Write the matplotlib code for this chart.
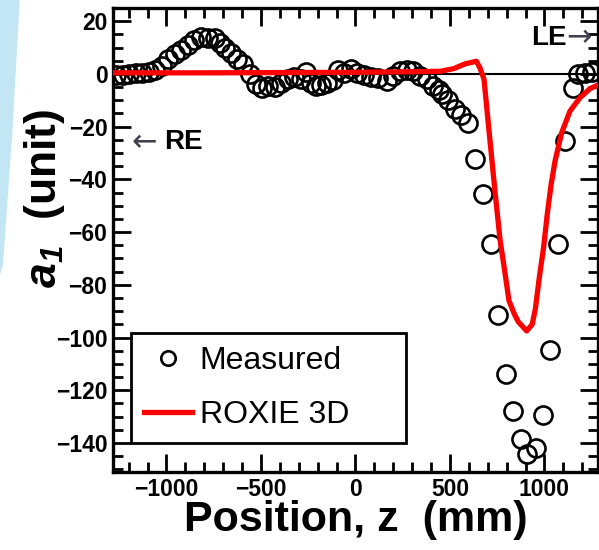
import matplotlib
matplotlib.use("Agg")
import matplotlib.pyplot as plt
from matplotlib.patches import Polygon
from matplotlib.ticker import MultipleLocator

# measured a1 along the magnet axis
z_meas = [-1265, -1232, -1198, -1163, -1128, -1093, -1058, -1025, -990, -955,
          -923, -888, -853, -815, -779, -743, -717, -690, -659, -629,
          -594, -558, -528, -496, -461, -426, -394, -359, -324, -290,
          -262, -235, -210, -180, -150, -120, -92, -60, -25, 10,
          45, 80, 120, 165, 200, 235, 270, 305, 340, 377,
          412, 440, 460, 490, 525, 558, 597, 632, 673, 715,
          756, 795, 832, 874, 909, 953, 994, 1029, 1073, 1108,
          1149, 1179, 1214, 1250]
a_meas = [-0.3, -0.3, -0.2, 0.2, 0.4, 0.9, 1.3, 3.0, 5.5, 7.4,
          9.0, 10.8, 12.8, 14.0, 13.7, 13.5, 11.8, 9.9, 8.0, 5.5,
          3.6, -0.2, -4.0, -5.2, -4.6, -5.0, -3.3, -1.8, -1.2, -2.0,
          0.6, -3.3, -4.6, -4.2, -3.4, -2.5, 1.6, 0.4, 1.8, 0.5,
          -0.6, -1.1, -1.4, -2.7, -0.8, 1.2, 1.3, 1.2, -0.8, -2.1,
          -4.6, -6.0, -7.8, -9.9, -13.5, -15.7, -18.8, -32.4, -45.7, -64.7,
          -91.3, -113.8, -128.0, -138.3, -144.1, -141.9, -129.2, -104.6, -64.4, -25.5,
          -5.2, -0.2, 0.4, 0.7]

# ROXIE 3D calculation
z_roxie = [-1290, -800, -400, 0, 300, 450, 520, 580, 640, 660,
           680, 703, 738, 765, 790, 812, 840, 861, 906, 935,
           952, 973, 995, 1015, 1035, 1056, 1091, 1135, 1188, 1241, 1290]
a_roxie = [0.4, 0.4, 0.5, 0.6, 0.8, 1.0, 2.0, 3.8, 4.8, 2.0,
           -2.0, -19.0, -44.5, -63.0, -75.0, -86.0, -91.0, -94.0, -97.5, -95.0,
           -89.0, -77.0, -66.0, -53.0, -42.0, -33.0, -22.3, -14.1, -9.0, -5.6, -4.0]

plt.rcParams["font.family"] = ["Liberation Sans", "DejaVu Sans"]
plt.rcParams["mathtext.fontset"] = "custom"
plt.rcParams["mathtext.rm"] = "Liberation Sans"
plt.rcParams["mathtext.it"] = "Liberation Sans:italic"
plt.rcParams["mathtext.bf"] = "Liberation Sans:bold"
plt.rcParams["mathtext.bfit"] = "Liberation Sans:italic:bold"

fig = plt.figure(figsize=(5.99, 5.5), dpi=100)
ax = fig.add_axes([0.1886, 0.1418, 0.8097, 0.8437])

# slide decoration on the left edge
fig.patches.append(Polygon([(0, 1), (0.033, 1), (0.02, 0.75), (0.005, 0.52), (0, 0.5)],
                           closed=True, transform=fig.transFigure,
                           facecolor="#9ad6ee", edgecolor="none", alpha=0.6))

ax.axhline(0, color="black", lw=1.5, zorder=1)
ax.plot(z_meas, a_meas, "o", ms=13, mfc="none", mec="black", mew=1.9,
        label="Measured", zorder=2)
ax.plot(z_roxie, a_roxie, "-", color="#ff0000", lw=3.8, label="ROXIE 3D", zorder=3)

ax.set_xlim(-1283, 1283)
ax.set_ylim(-151, 25)
ax.xaxis.set_major_locator(MultipleLocator(500))
ax.xaxis.set_minor_locator(MultipleLocator(100))
ax.yaxis.set_major_locator(MultipleLocator(20))
ax.yaxis.set_minor_locator(MultipleLocator(5))
ax.tick_params(which="both", direction="in", top=True, right=True, width=2,
               labelsize=16.5, pad=4)
ax.tick_params(which="major", length=13)
ax.tick_params(which="minor", length=7)
for lab in ax.get_xticklabels() + ax.get_yticklabels():
    lab.set_fontweight("bold")
for sp in ax.spines.values():
    sp.set_linewidth(2.4)

ax.set_xlabel("Position, z  (mm)", fontsize=31, fontweight="bold")
ax.set_ylabel(r"$\mathbfit{a}_{\mathbfit{1}}$  (unit)", fontsize=32, fontweight="bold")
ax.xaxis.set_label_coords(0.5, -0.06)
ax.yaxis.set_label_coords(-0.095, 0.59)

arrow_font = ["DejaVu Sans"]
ax.text(-1185, -26, "\u2190", fontsize=22, color="#404050", va="center", ha="left",
        family=arrow_font)
ax.text(-1015, -26, "RE", fontsize=20, fontweight="bold", va="center", ha="left")
ax.text(1117, 13.8, "LE", fontsize=20, fontweight="bold", va="center", ha="right")
ax.text(1117, 13.8, "\u2192", fontsize=22, color="#404050", va="center", ha="left",
        family=arrow_font)

leg = ax.legend(loc="lower left", bbox_to_anchor=(0.037, 0.0625, 0.567, 0.25),
                mode="expand", borderaxespad=0, fontsize=23, handlelength=1.5,
                handletextpad=0.25, labelspacing=0.75, borderpad=0.4,
                markerscale=0.8, fancybox=False, framealpha=1)
leg.get_frame().set_edgecolor("black")
leg.get_frame().set_linewidth(2)

fig.savefig("out.png", dpi=100)
